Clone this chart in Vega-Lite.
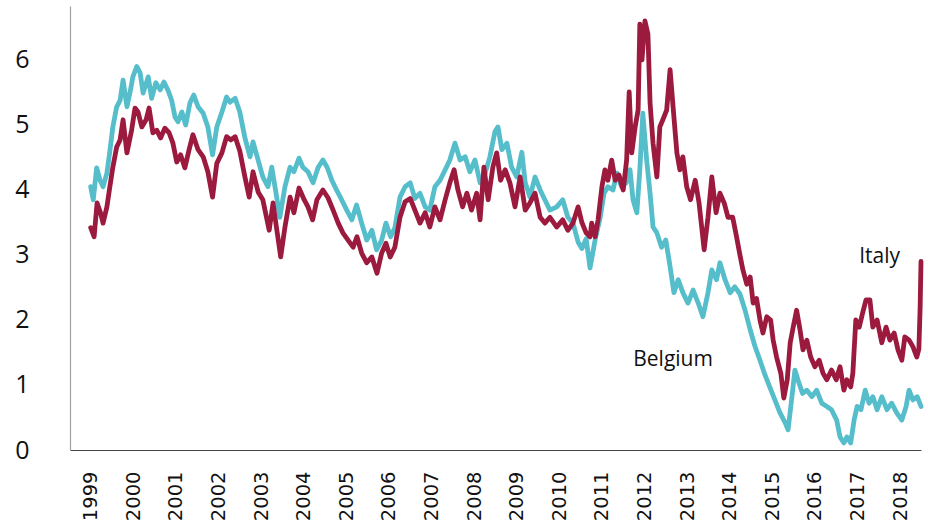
{
  "$schema": "https://vega.github.io/schema/vega-lite/v6.json",
  "width": 851,
  "height": 444,
  "autosize": {"type": "none"},
  "padding": {"left": 70, "top": 6, "right": 7, "bottom": 78},
  "background": "white",
  "config": {"view": {"stroke": null}},
  "datasets": {
    "belgium": [
      {"t": 1999.00, "v": 4.05}, {"t": 1999.06, "v": 3.85}, {"t": 1999.14, "v": 4.34}, {"t": 1999.22, "v": 4.15},
      {"t": 1999.29, "v": 4.05}, {"t": 1999.38, "v": 4.26}, {"t": 1999.45, "v": 4.6}, {"t": 1999.52, "v": 4.97},
      {"t": 1999.61, "v": 5.28}, {"t": 1999.69, "v": 5.38}, {"t": 1999.76, "v": 5.69}, {"t": 1999.85, "v": 5.28},
      {"t": 1999.92, "v": 5.49}, {"t": 1999.99, "v": 5.74}, {"t": 2000.08, "v": 5.9}, {"t": 2000.16, "v": 5.8},
      {"t": 2000.23, "v": 5.49}, {"t": 2000.35, "v": 5.74}, {"t": 2000.43, "v": 5.41}, {"t": 2000.53, "v": 5.65},
      {"t": 2000.63, "v": 5.54}, {"t": 2000.72, "v": 5.66}, {"t": 2000.81, "v": 5.54}, {"t": 2000.90, "v": 5.38},
      {"t": 2000.98, "v": 5.12}, {"t": 2001.05, "v": 5.05}, {"t": 2001.14, "v": 5.2}, {"t": 2001.23, "v": 5.0},
      {"t": 2001.33, "v": 5.34}, {"t": 2001.42, "v": 5.46}, {"t": 2001.52, "v": 5.28}, {"t": 2001.64, "v": 5.18},
      {"t": 2001.75, "v": 4.97}, {"t": 2001.86, "v": 4.54}, {"t": 2001.96, "v": 4.97}, {"t": 2002.08, "v": 5.2},
      {"t": 2002.19, "v": 5.43}, {"t": 2002.27, "v": 5.35}, {"t": 2002.39, "v": 5.41}, {"t": 2002.50, "v": 5.2},
      {"t": 2002.62, "v": 4.8}, {"t": 2002.74, "v": 4.51}, {"t": 2002.81, "v": 4.74}, {"t": 2002.93, "v": 4.46},
      {"t": 2003.04, "v": 4.2}, {"t": 2003.16, "v": 4.05}, {"t": 2003.25, "v": 4.35}, {"t": 2003.35, "v": 3.95},
      {"t": 2003.44, "v": 3.58}, {"t": 2003.56, "v": 4.05}, {"t": 2003.68, "v": 4.35}, {"t": 2003.77, "v": 4.28},
      {"t": 2003.89, "v": 4.49}, {"t": 2003.98, "v": 4.35}, {"t": 2004.10, "v": 4.28}, {"t": 2004.22, "v": 4.11},
      {"t": 2004.34, "v": 4.35}, {"t": 2004.45, "v": 4.46}, {"t": 2004.55, "v": 4.35}, {"t": 2004.66, "v": 4.15},
      {"t": 2004.77, "v": 4.0}, {"t": 2004.89, "v": 3.85}, {"t": 2005.01, "v": 3.69}, {"t": 2005.13, "v": 3.54},
      {"t": 2005.24, "v": 3.77}, {"t": 2005.36, "v": 3.49}, {"t": 2005.48, "v": 3.23}, {"t": 2005.60, "v": 3.38},
      {"t": 2005.71, "v": 3.08}, {"t": 2005.83, "v": 3.23}, {"t": 2005.93, "v": 3.49}, {"t": 2006.04, "v": 3.28},
      {"t": 2006.14, "v": 3.42}, {"t": 2006.26, "v": 3.89}, {"t": 2006.38, "v": 4.05}, {"t": 2006.50, "v": 4.11},
      {"t": 2006.61, "v": 3.87}, {"t": 2006.73, "v": 3.95}, {"t": 2006.85, "v": 3.74}, {"t": 2006.96, "v": 3.69},
      {"t": 2007.08, "v": 4.05}, {"t": 2007.20, "v": 4.15}, {"t": 2007.32, "v": 4.31}, {"t": 2007.43, "v": 4.46},
      {"t": 2007.55, "v": 4.72}, {"t": 2007.67, "v": 4.46}, {"t": 2007.79, "v": 4.51}, {"t": 2007.90, "v": 4.28},
      {"t": 2008.02, "v": 4.46}, {"t": 2008.14, "v": 4.11}, {"t": 2008.26, "v": 4.26}, {"t": 2008.37, "v": 4.51},
      {"t": 2008.49, "v": 4.9}, {"t": 2008.56, "v": 4.97}, {"t": 2008.65, "v": 4.62}, {"t": 2008.77, "v": 4.72},
      {"t": 2008.88, "v": 4.35}, {"t": 2009.00, "v": 4.2}, {"t": 2009.12, "v": 4.58}, {"t": 2009.20, "v": 4.11},
      {"t": 2009.31, "v": 3.89}, {"t": 2009.43, "v": 4.2}, {"t": 2009.55, "v": 4.0}, {"t": 2009.66, "v": 3.85},
      {"t": 2009.78, "v": 3.69}, {"t": 2009.94, "v": 3.74}, {"t": 2010.08, "v": 3.85}, {"t": 2010.20, "v": 3.58},
      {"t": 2010.32, "v": 3.49}, {"t": 2010.44, "v": 3.2}, {"t": 2010.53, "v": 3.1}, {"t": 2010.63, "v": 3.25},
      {"t": 2010.72, "v": 2.8}, {"t": 2010.84, "v": 3.23}, {"t": 2010.96, "v": 3.58}, {"t": 2011.05, "v": 3.95},
      {"t": 2011.14, "v": 4.05}, {"t": 2011.26, "v": 4.0}, {"t": 2011.35, "v": 4.26}, {"t": 2011.46, "v": 4.05},
      {"t": 2011.57, "v": 4.11}, {"t": 2011.66, "v": 4.31}, {"t": 2011.73, "v": 3.85}, {"t": 2011.82, "v": 3.65},
      {"t": 2011.89, "v": 4.31}, {"t": 2011.96, "v": 5.18}, {"t": 2012.05, "v": 4.46}, {"t": 2012.13, "v": 3.95},
      {"t": 2012.20, "v": 3.43}, {"t": 2012.29, "v": 3.34}, {"t": 2012.40, "v": 3.12}, {"t": 2012.50, "v": 3.23},
      {"t": 2012.60, "v": 2.82}, {"t": 2012.69, "v": 2.42}, {"t": 2012.79, "v": 2.62}, {"t": 2012.90, "v": 2.42},
      {"t": 2013.02, "v": 2.26}, {"t": 2013.14, "v": 2.46}, {"t": 2013.26, "v": 2.26}, {"t": 2013.37, "v": 2.05},
      {"t": 2013.49, "v": 2.42}, {"t": 2013.58, "v": 2.77}, {"t": 2013.69, "v": 2.62}, {"t": 2013.77, "v": 2.88},
      {"t": 2013.89, "v": 2.62}, {"t": 2014.01, "v": 2.42}, {"t": 2014.12, "v": 2.51}, {"t": 2014.24, "v": 2.4},
      {"t": 2014.36, "v": 2.15}, {"t": 2014.48, "v": 1.85}, {"t": 2014.59, "v": 1.6}, {"t": 2014.71, "v": 1.38},
      {"t": 2014.83, "v": 1.15}, {"t": 2014.95, "v": 0.95}, {"t": 2015.06, "v": 0.77}, {"t": 2015.18, "v": 0.57},
      {"t": 2015.30, "v": 0.42}, {"t": 2015.37, "v": 0.31}, {"t": 2015.46, "v": 0.82}, {"t": 2015.53, "v": 1.23},
      {"t": 2015.60, "v": 1.08}, {"t": 2015.71, "v": 0.87}, {"t": 2015.81, "v": 0.92}, {"t": 2015.93, "v": 0.82},
      {"t": 2016.04, "v": 0.92}, {"t": 2016.16, "v": 0.72}, {"t": 2016.28, "v": 0.67}, {"t": 2016.39, "v": 0.62},
      {"t": 2016.51, "v": 0.46}, {"t": 2016.59, "v": 0.2}, {"t": 2016.68, "v": 0.11}, {"t": 2016.75, "v": 0.2},
      {"t": 2016.84, "v": 0.11}, {"t": 2016.92, "v": 0.46}, {"t": 2016.99, "v": 0.67}, {"t": 2017.08, "v": 0.62},
      {"t": 2017.18, "v": 0.92}, {"t": 2017.27, "v": 0.72}, {"t": 2017.36, "v": 0.82}, {"t": 2017.46, "v": 0.62},
      {"t": 2017.57, "v": 0.82}, {"t": 2017.69, "v": 0.62}, {"t": 2017.80, "v": 0.72}, {"t": 2017.92, "v": 0.57},
      {"t": 2018.04, "v": 0.46}, {"t": 2018.14, "v": 0.67}, {"t": 2018.21, "v": 0.92}, {"t": 2018.30, "v": 0.77},
      {"t": 2018.40, "v": 0.82}, {"t": 2018.49, "v": 0.67}
    ],
    "italy": [
      {"t": 1999.00, "v": 3.42}, {"t": 1999.08, "v": 3.28}, {"t": 1999.15, "v": 3.8}, {"t": 1999.23, "v": 3.65},
      {"t": 1999.29, "v": 3.49}, {"t": 1999.38, "v": 3.74}, {"t": 1999.45, "v": 4.05}, {"t": 1999.52, "v": 4.35},
      {"t": 1999.61, "v": 4.66}, {"t": 1999.69, "v": 4.77}, {"t": 1999.76, "v": 5.08}, {"t": 1999.85, "v": 4.57},
      {"t": 1999.96, "v": 4.92}, {"t": 2000.04, "v": 5.26}, {"t": 2000.11, "v": 5.2}, {"t": 2000.20, "v": 4.97},
      {"t": 2000.30, "v": 5.08}, {"t": 2000.37, "v": 5.26}, {"t": 2000.46, "v": 4.88}, {"t": 2000.55, "v": 4.92},
      {"t": 2000.64, "v": 4.8}, {"t": 2000.74, "v": 4.95}, {"t": 2000.84, "v": 4.88}, {"t": 2000.93, "v": 4.72},
      {"t": 2001.02, "v": 4.43}, {"t": 2001.11, "v": 4.54}, {"t": 2001.21, "v": 4.34}, {"t": 2001.31, "v": 4.62},
      {"t": 2001.40, "v": 4.85}, {"t": 2001.52, "v": 4.62}, {"t": 2001.64, "v": 4.51}, {"t": 2001.75, "v": 4.28},
      {"t": 2001.86, "v": 3.89}, {"t": 2001.96, "v": 4.41}, {"t": 2002.08, "v": 4.57}, {"t": 2002.19, "v": 4.82},
      {"t": 2002.29, "v": 4.77}, {"t": 2002.39, "v": 4.82}, {"t": 2002.50, "v": 4.6}, {"t": 2002.62, "v": 4.2},
      {"t": 2002.72, "v": 3.89}, {"t": 2002.81, "v": 4.28}, {"t": 2002.93, "v": 3.97}, {"t": 2003.04, "v": 3.85},
      {"t": 2003.19, "v": 3.38}, {"t": 2003.28, "v": 3.8}, {"t": 2003.37, "v": 3.38}, {"t": 2003.46, "v": 2.97},
      {"t": 2003.56, "v": 3.43}, {"t": 2003.68, "v": 3.89}, {"t": 2003.77, "v": 3.65}, {"t": 2003.89, "v": 4.03},
      {"t": 2004.01, "v": 3.85}, {"t": 2004.10, "v": 3.74}, {"t": 2004.21, "v": 3.54}, {"t": 2004.31, "v": 3.85},
      {"t": 2004.45, "v": 4.0}, {"t": 2004.57, "v": 3.88}, {"t": 2004.69, "v": 3.69}, {"t": 2004.81, "v": 3.49},
      {"t": 2004.92, "v": 3.34}, {"t": 2005.04, "v": 3.23}, {"t": 2005.16, "v": 3.12}, {"t": 2005.25, "v": 3.28},
      {"t": 2005.36, "v": 3.03}, {"t": 2005.48, "v": 2.88}, {"t": 2005.60, "v": 2.97}, {"t": 2005.72, "v": 2.72},
      {"t": 2005.83, "v": 3.03}, {"t": 2005.93, "v": 3.18}, {"t": 2006.03, "v": 2.97}, {"t": 2006.14, "v": 3.12},
      {"t": 2006.26, "v": 3.58}, {"t": 2006.38, "v": 3.82}, {"t": 2006.50, "v": 3.87}, {"t": 2006.61, "v": 3.69},
      {"t": 2006.73, "v": 3.49}, {"t": 2006.85, "v": 3.65}, {"t": 2006.96, "v": 3.43}, {"t": 2007.08, "v": 3.74},
      {"t": 2007.20, "v": 3.54}, {"t": 2007.32, "v": 3.85}, {"t": 2007.43, "v": 4.11}, {"t": 2007.53, "v": 4.31},
      {"t": 2007.62, "v": 4.0}, {"t": 2007.73, "v": 3.74}, {"t": 2007.83, "v": 3.95}, {"t": 2007.94, "v": 3.69},
      {"t": 2008.06, "v": 3.95}, {"t": 2008.14, "v": 3.54}, {"t": 2008.23, "v": 4.35}, {"t": 2008.33, "v": 3.85},
      {"t": 2008.44, "v": 4.35}, {"t": 2008.53, "v": 4.57}, {"t": 2008.62, "v": 4.15}, {"t": 2008.73, "v": 4.31},
      {"t": 2008.84, "v": 4.11}, {"t": 2008.96, "v": 3.74}, {"t": 2009.08, "v": 4.2}, {"t": 2009.20, "v": 3.69},
      {"t": 2009.31, "v": 3.8}, {"t": 2009.43, "v": 3.95}, {"t": 2009.55, "v": 3.58}, {"t": 2009.66, "v": 3.49},
      {"t": 2009.78, "v": 3.58}, {"t": 2009.94, "v": 3.43}, {"t": 2010.08, "v": 3.54}, {"t": 2010.20, "v": 3.38},
      {"t": 2010.32, "v": 3.49}, {"t": 2010.44, "v": 3.74}, {"t": 2010.53, "v": 3.5}, {"t": 2010.63, "v": 3.34},
      {"t": 2010.72, "v": 3.28}, {"t": 2010.76, "v": 3.49}, {"t": 2010.84, "v": 3.28}, {"t": 2010.91, "v": 3.54},
      {"t": 2011.00, "v": 4.05}, {"t": 2011.07, "v": 4.31}, {"t": 2011.14, "v": 4.15}, {"t": 2011.23, "v": 4.46},
      {"t": 2011.31, "v": 4.15}, {"t": 2011.40, "v": 4.23}, {"t": 2011.50, "v": 4.0}, {"t": 2011.58, "v": 4.46},
      {"t": 2011.64, "v": 5.51}, {"t": 2011.70, "v": 4.57}, {"t": 2011.78, "v": 4.97}, {"t": 2011.85, "v": 5.23},
      {"t": 2011.89, "v": 6.55}, {"t": 2011.94, "v": 6.0}, {"t": 2012.01, "v": 6.6}, {"t": 2012.08, "v": 6.4},
      {"t": 2012.13, "v": 5.34}, {"t": 2012.20, "v": 4.72}, {"t": 2012.29, "v": 4.2}, {"t": 2012.36, "v": 4.97},
      {"t": 2012.43, "v": 5.08}, {"t": 2012.52, "v": 5.23}, {"t": 2012.60, "v": 5.85}, {"t": 2012.67, "v": 5.28},
      {"t": 2012.76, "v": 4.57}, {"t": 2012.83, "v": 4.31}, {"t": 2012.90, "v": 4.51}, {"t": 2012.99, "v": 4.05},
      {"t": 2013.08, "v": 3.85}, {"t": 2013.19, "v": 4.15}, {"t": 2013.28, "v": 3.8}, {"t": 2013.40, "v": 3.08},
      {"t": 2013.49, "v": 3.58}, {"t": 2013.58, "v": 4.2}, {"t": 2013.68, "v": 3.65}, {"t": 2013.77, "v": 3.95},
      {"t": 2013.87, "v": 3.8}, {"t": 2013.96, "v": 3.58}, {"t": 2014.07, "v": 3.58}, {"t": 2014.16, "v": 3.28},
      {"t": 2014.24, "v": 3.0}, {"t": 2014.31, "v": 2.77}, {"t": 2014.40, "v": 2.55}, {"t": 2014.48, "v": 2.66},
      {"t": 2014.55, "v": 2.26}, {"t": 2014.63, "v": 2.33}, {"t": 2014.71, "v": 2.0}, {"t": 2014.78, "v": 1.8},
      {"t": 2014.87, "v": 2.05}, {"t": 2014.96, "v": 2.0}, {"t": 2015.02, "v": 1.69}, {"t": 2015.10, "v": 1.43},
      {"t": 2015.20, "v": 1.18}, {"t": 2015.27, "v": 0.8}, {"t": 2015.35, "v": 1.08}, {"t": 2015.42, "v": 1.65},
      {"t": 2015.49, "v": 1.89}, {"t": 2015.57, "v": 2.15}, {"t": 2015.65, "v": 1.85}, {"t": 2015.72, "v": 1.54},
      {"t": 2015.81, "v": 1.69}, {"t": 2015.90, "v": 1.43}, {"t": 2016.00, "v": 1.28}, {"t": 2016.10, "v": 1.38},
      {"t": 2016.19, "v": 1.18}, {"t": 2016.28, "v": 1.08}, {"t": 2016.39, "v": 1.23}, {"t": 2016.50, "v": 1.08},
      {"t": 2016.59, "v": 1.28}, {"t": 2016.68, "v": 0.92}, {"t": 2016.75, "v": 1.08}, {"t": 2016.84, "v": 0.97},
      {"t": 2016.89, "v": 1.18}, {"t": 2016.96, "v": 2.0}, {"t": 2017.04, "v": 1.89}, {"t": 2017.12, "v": 2.11},
      {"t": 2017.20, "v": 2.31}, {"t": 2017.29, "v": 2.31}, {"t": 2017.36, "v": 1.89}, {"t": 2017.46, "v": 2.0},
      {"t": 2017.57, "v": 1.65}, {"t": 2017.67, "v": 1.89}, {"t": 2017.76, "v": 1.69}, {"t": 2017.86, "v": 1.8},
      {"t": 2017.95, "v": 1.54}, {"t": 2018.04, "v": 1.38}, {"t": 2018.11, "v": 1.74}, {"t": 2018.21, "v": 1.69},
      {"t": 2018.30, "v": 1.59}, {"t": 2018.39, "v": 1.43}, {"t": 2018.44, "v": 1.55}, {"t": 2018.47, "v": 2.2},
      {"t": 2018.49, "v": 2.9}
    ],
    "labels": [
      {"t": 2017.52, "v": 2.87, "label": "Italy"},
      {"t": 2012.67, "v": 1.29, "label": "Belgium"}
    ]
  },
  "layer": [
    {
      "data": {"name": "belgium"},
      "mark": {"type": "line", "color": "#56BDCB", "strokeWidth": 4.8, "strokeJoin": "round", "strokeCap": "round"},
      "encoding": {
        "x": {
          "field": "t", "type": "quantitative",
          "scale": {"domain": [1998.514, 2018.49], "nice": false, "zero": false},
          "axis": {
            "title": null, "values": [1999, 2000, 2001, 2002, 2003, 2004, 2005, 2006, 2007, 2008, 2009, 2010, 2011, 2012, 2013, 2014, 2015, 2016, 2017, 2018],
            "format": "d", "labelAngle": -90, "labelFont": "DejaVu Sans", "labelFontSize": 19.5, "labelColor": "#111",
            "labelPadding": 21, "ticks": false, "tickSize": 0, "grid": false, "domainColor": "#444", "domainWidth": 1.2,
            "labelOverlap": false, "labelBound": false, "labelFlush": false
          }
        },
        "y": {
          "field": "v", "type": "quantitative",
          "scale": {"domain": [0, 6.83], "nice": false},
          "axis": {
            "title": null, "values": [0, 1, 2, 3, 4, 5, 6], "format": "d", "labelFont": "Open Sans", "labelFontSize": 25, "labelColor": "#111",
            "labelPadding": 41, "ticks": false, "tickSize": 0, "grid": false, "domainColor": "#A0A0A0", "domainWidth": 1.2,
            "labelOverlap": false, "labelBound": false, "labelFlush": false
          }
        }
      }
    },
    {
      "data": {"name": "italy"},
      "mark": {"type": "line", "color": "#9B1A3E", "strokeWidth": 4.8, "strokeJoin": "round", "strokeCap": "round"},
      "encoding": {
        "x": {"field": "t", "type": "quantitative"},
        "y": {"field": "v", "type": "quantitative"}
      }
    },
    {
      "data": {"name": "labels"},
      "mark": {"type": "text", "font": "Open Sans", "fontSize": 21, "color": "#111", "align": "center", "baseline": "alphabetic"},
      "encoding": {
        "x": {"field": "t", "type": "quantitative"},
        "y": {"field": "v", "type": "quantitative"},
        "text": {"field": "label"}
      }
    }
  ]
}
